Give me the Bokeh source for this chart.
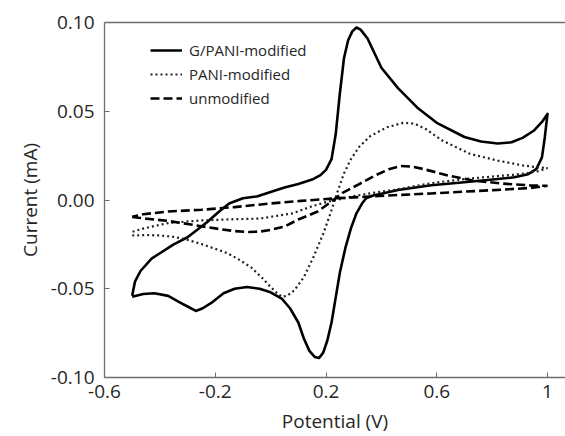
from bokeh.plotting import figure
from bokeh.models import LinearAxis, FixedTicker, Legend, LegendItem, Range1d
from bokeh.embed import file_html
from bokeh.resources import INLINE

# ---- data ----
gpani_x = [-0.50, -0.49, -0.47, -0.43, -0.40, -0.35, -0.30, -0.23, -0.19, -0.15, -0.10, -0.05,
           0.00, 0.05, 0.10, 0.15, 0.18, 0.20, 0.22, 0.235, 0.25, 0.265, 0.28, 0.295, 0.31, 0.325,
           0.35, 0.40, 0.46, 0.53, 0.60, 0.70, 0.76, 0.82, 0.87, 0.91, 0.95, 0.98, 1.00,
           0.99, 0.98, 0.96, 0.93, 0.88, 0.82, 0.70, 0.58, 0.46, 0.40, 0.37, 0.345, 0.33, 0.31,
           0.29, 0.27, 0.25, 0.235, 0.22, 0.205, 0.19, 0.175, 0.16, 0.14, 0.12, 0.10, 0.07, 0.04,
           0.00, -0.04, -0.085, -0.13, -0.17, -0.21, -0.245, -0.27, -0.30, -0.33, -0.37, -0.42,
           -0.46, -0.50]
gpani_y = [-0.054, -0.046, -0.040, -0.033, -0.030, -0.025, -0.021, -0.0125, -0.007, -0.002, 0.001, 0.002,
           0.0045, 0.007, 0.009, 0.0115, 0.014, 0.017, 0.023, 0.037, 0.060, 0.080, 0.090, 0.095, 0.0972, 0.096,
           0.091, 0.0745, 0.063, 0.052, 0.0435, 0.0355, 0.033, 0.0318, 0.0325, 0.035, 0.039, 0.044, 0.0485,
           0.035, 0.024, 0.0175, 0.0145, 0.0128, 0.0118, 0.0100, 0.0083, 0.0056, 0.0035, 0.0025, 0.001, -0.002, -0.0075,
           -0.016, -0.027, -0.041, -0.055, -0.069, -0.079, -0.086, -0.089, -0.0885, -0.085, -0.078, -0.069, -0.061, -0.0555,
           -0.052, -0.050, -0.049, -0.050, -0.0525, -0.0575, -0.061, -0.0625, -0.060, -0.0575, -0.054, -0.0525,
           -0.053, -0.0545]

pani_x = [-0.50, -0.45, -0.40, -0.35, -0.31, -0.25, -0.20, -0.155, -0.11, -0.07, -0.03, 0.00, 0.02, 0.04,
          0.06, 0.085, 0.12, 0.155, 0.19, 0.215, 0.24, 0.265, 0.29, 0.32, 0.36, 0.42, 0.48, 0.52, 0.56,
          0.62, 0.68, 0.72, 0.82, 0.91, 0.96, 1.00,
          0.97, 0.93, 0.88, 0.82, 0.70, 0.58, 0.45, 0.37, 0.30, 0.25, 0.20, 0.15, 0.08, 0.00, -0.04,
          -0.13, -0.25, -0.37, -0.43, -0.47, -0.50]
pani_y = [-0.020, -0.0197, -0.0200, -0.0208, -0.022, -0.0248, -0.0275, -0.030, -0.034, -0.038, -0.044, -0.049, -0.052, -0.0545,
          -0.054, -0.051, -0.0435, -0.032, -0.019, -0.008, 0.004, 0.015, 0.023, 0.030, 0.036, 0.041, 0.0435, 0.043, 0.040,
          0.0335, 0.029, 0.026, 0.0222, 0.0195, 0.0185, 0.018,
          0.0163, 0.0152, 0.0142, 0.0135, 0.0118, 0.0095, 0.0058, 0.0040, 0.0022, 0.0005, -0.0012, -0.0035, -0.0075, -0.0095, -0.0105,
          -0.0108, -0.0115, -0.013, -0.015, -0.0165, -0.018]

unmod_x = [-0.50, -0.45, -0.37, -0.30, -0.25, -0.18, -0.13, -0.08, -0.04, 0.00, 0.05, 0.10, 0.17, 0.21,
           0.26, 0.32, 0.38, 0.43, 0.47, 0.51, 0.55, 0.60, 0.64, 0.73, 0.84, 0.94, 1.00,
           0.94, 0.82, 0.70, 0.58, 0.46, 0.34, 0.22, 0.11, -0.01, -0.13, -0.25, -0.37, -0.46, -0.50]
unmod_y = [-0.0095, -0.0105, -0.0118, -0.0135, -0.0148, -0.0165, -0.0175, -0.018, -0.0178, -0.0168, -0.015, -0.011, -0.0065, -0.0020,
           0.004, 0.009, 0.014, 0.0175, 0.0192, 0.0188, 0.0175, 0.0155, 0.0138, 0.011, 0.0092, 0.0082, 0.0080,
           0.0068, 0.0057, 0.0047, 0.0037, 0.0028, 0.0018, 0.0008, -0.0005, -0.0021, -0.004, -0.0055, -0.0065, -0.0080, -0.0095]

series_names = ["G/PANI-modified", "PANI-modified", "unmodified"]
x_title = "Potential (V)"
y_title = "Current (mA)"
x_ticks = [-0.6, -0.2, 0.2, 0.6, 1.0]
x_tick_labels = ["-0.6", "-0.2", "0.2", "0.6", "1"]
y_ticks = [-0.10, -0.05, 0.0, 0.05, 0.10]
y_tick_labels = ["-0.10", "-0.05", "0.00", "0.05", "0.10"]

FONT = "Open Sans"
AXIS_COLOR = "#6e6e6e"
TEXT_COLOR = "#262626"

p = figure(width=565, height=436, output_backend="svg", toolbar_location=None,
           x_range=Range1d(-0.6, 1.065), y_range=Range1d(-0.10, 0.10),
           min_border_left=104, min_border_right=0, min_border_top=22, min_border_bottom=59,
           x_axis_label=x_title, y_axis_label=y_title)
p.outline_line_color = None
p.xgrid.visible = False
p.ygrid.visible = False
p.background_fill_color = "white"
p.border_fill_color = "white"

for ax in (p.xaxis[0], p.yaxis[0]):
    ax.axis_line_color = AXIS_COLOR
    ax.axis_line_width = 1.3
    ax.major_tick_line_color = AXIS_COLOR
    ax.major_tick_in = 5
    ax.major_tick_out = 0
    ax.minor_tick_line_color = None
    ax.major_label_text_font = FONT
    ax.major_label_text_font_size = "19px"
    ax.major_label_text_color = TEXT_COLOR
    ax.axis_label_text_font = FONT
    ax.axis_label_text_font_size = "19px"
    ax.axis_label_text_font_style = "normal"
    ax.axis_label_text_color = TEXT_COLOR

p.xaxis[0].ticker = FixedTicker(ticks=x_ticks)
p.xaxis[0].major_label_overrides = {t: l for t, l in zip(x_ticks, x_tick_labels)}
p.xaxis[0].major_label_standoff = 7
p.xaxis[0].axis_label_standoff = 7
p.yaxis[0].ticker = FixedTicker(ticks=y_ticks)
p.yaxis[0].major_label_overrides = {t: l for t, l in zip(y_ticks, y_tick_labels)}
p.yaxis[0].major_label_standoff = 10
p.yaxis[0].axis_label_standoff = 5

top = LinearAxis(ticker=FixedTicker(ticks=[]), axis_line_color=AXIS_COLOR, axis_line_width=1.3,
                 major_tick_in=0, major_tick_out=0, minor_tick_line_color=None,
                 major_label_text_font_size="0px")
p.add_layout(top, "above")

r1 = p.line(gpani_x, gpani_y, line_color="black", line_width=2.6, line_join="round")
r2 = p.line(pani_x, pani_y, line_color="#222222", line_width=2.2, line_dash="2 3")
r3 = p.line(unmod_x, unmod_y, line_color="black", line_width=2.6, line_dash="9 4")

legend = Legend(items=[LegendItem(label=series_names[0], renderers=[r1]),
                       LegendItem(label=series_names[1], renderers=[r2]),
                       LegendItem(label=series_names[2], renderers=[r3])],
                location=(46, 269), padding=0, margin=0, spacing=4,
                glyph_width=32, glyph_height=20, label_height=20, label_standoff=7,
                label_text_font=FONT, label_text_font_size="15px", label_text_color=TEXT_COLOR,
                border_line_color=None, background_fill_alpha=0)
p.add_layout(legend, "center")

open("out.html", "w").write(file_html(p, INLINE))
